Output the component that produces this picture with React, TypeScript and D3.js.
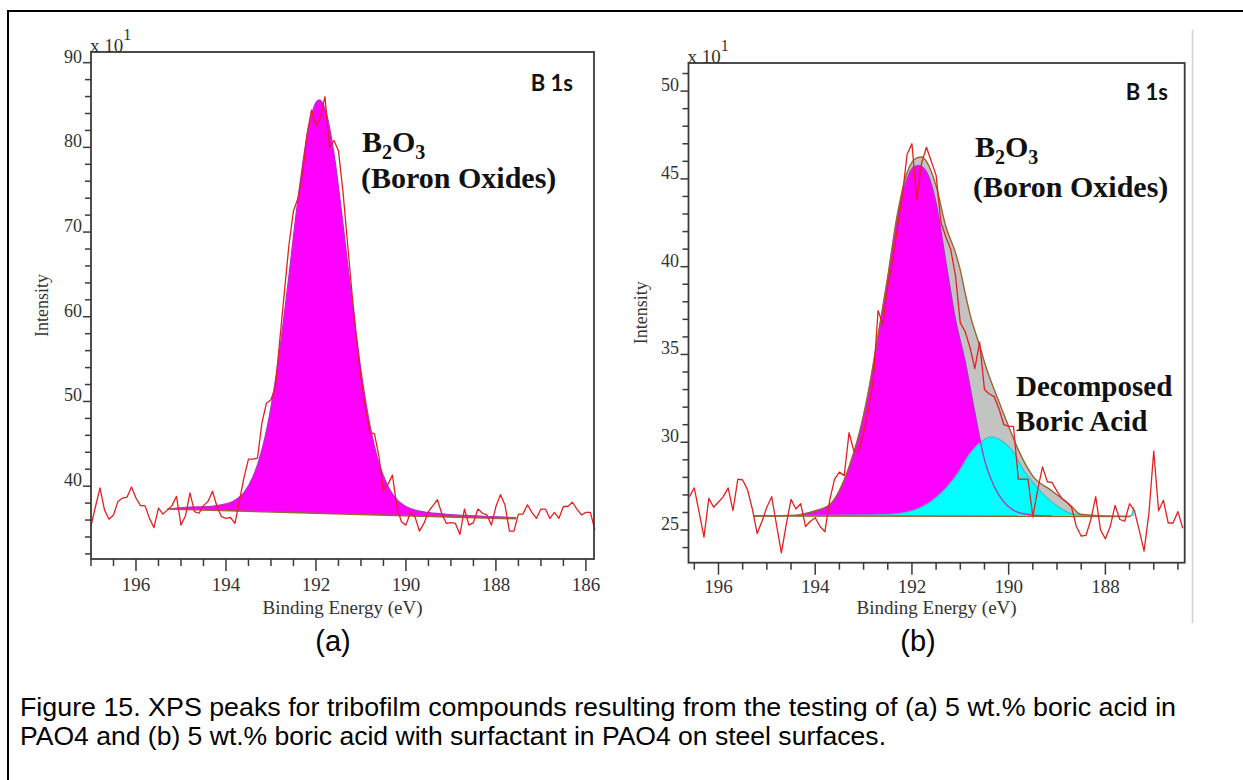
import React from 'react';
import * as d3 from 'd3';

// ---------- Panel (a) data ----------
const energiesA: number[] = d3.range(1970, 1857, -1).map((d) => d / 10); // 197.0 → 185.8 eV
const intensityA: number[] = [
  35.3, 37.6, 39.8, 37.2, 36.1, 36.6, 38.2, 38.6, 38.7, 39.9,
  38.6, 37.7, 37.7, 36.2, 35.1, 37.4, 36.7, 37.2, 37.7, 38.8,
  35.4, 36.5, 39.2, 37.0, 36.8, 37.7, 38.2, 39.4, 37.6, 36.4,
  36.2, 36.3, 35.6, 38.3, 41.0, 43.2, 43.2, 43.3, 47.5, 49.8,
  50.2, 51.7, 57.5, 63.0, 68.5, 72.5, 74.0, 76.7, 81.5, 84.4,
  82.5, 83.5, 86.0, 80.0, 80.8, 79.6, 74.8, 68.8, 62.8, 57.5,
  52.8, 49.2, 46.3, 46.2, 43.5, 39.5, 40.2, 41.3, 37.5, 35.8,
  35.4, 36.9, 36.4, 34.7, 35.6, 37.0, 37.7, 38.4, 36.7, 35.6,
  35.7, 35.6, 34.3, 37.3, 35.4, 35.7, 37.3, 36.8, 36.6, 35.4,
  37.6, 39.0, 37.8, 34.7, 34.7, 36.7, 36.7, 37.8, 36.9, 36.2,
  37.3, 37.3, 36.2, 36.9, 36.2, 37.6, 37.6, 38.1, 37.3, 36.6,
  36.9, 36.9, 34.8,
];
const peakAEnergy: number[] = [
  195.3, 194.8, 194.4, 194.0, 193.8, 193.6, 193.4, 193.2, 193.0, 192.8,
  192.6, 192.4, 192.2, 192.0, 191.93, 191.8, 191.6, 191.4, 191.2, 191.0,
  190.8, 190.6, 190.4, 190.2, 190.0, 189.6, 189.2, 188.5, 187.55,
];
const peakAValue: number[] = [
  37.3, 37.54, 37.6, 37.9, 38.35, 39.25, 41.1, 44.3, 49.3, 56.3,
  64.9, 73.9, 81.3, 85.3, 85.6, 84.6, 79.3, 71.0, 62.0, 53.7,
  47.2, 42.7, 40.0, 38.4, 37.6, 36.96, 36.74, 36.5, 36.3,
];
const baseAEnergy: number[] = [195.3, 187.55];
const baseAValue: number[] = [37.3, 36.15];
const xTicksA: number[] = [196, 194, 192, 190, 188, 186];
const yTicksA: number[] = [40, 50, 60, 70, 80, 90];

// ---------- Panel (b) data ----------
const energiesB: number[] = d3.range(1966, 1863, -1).map((d) => d / 10); // 196.6 → 186.4 eV
const intensityB: number[] = [
  26.9, 27.4, 26.0, 24.6, 26.8, 26.3, 26.6, 26.9, 27.4, 26.1,
  27.9, 27.85, 27.3, 26.2, 24.8, 25.5, 26.3, 26.9, 25.3, 23.7,
  25.3, 26.75, 26.2, 26.5, 25.2, 25.5, 25.7, 25.2, 24.9, 26.7,
  27.9, 28.3, 28.1, 30.55, 29.5, 29.5, 30.5, 31.8, 33.5, 37.5,
  36.7, 38.9, 40.3, 42.2, 44.0, 46.4, 47.0, 43.8, 45.9, 46.8,
  46.0, 45.2, 42.5, 41.7, 41.0, 39.5, 36.8, 36.3, 35.4, 34.2,
  35.7, 33.0, 32.75, 32.6, 31.9, 31.0, 30.9, 30.9, 27.9, 27.9,
  27.9, 25.75, 27.3, 28.6, 27.75, 27.7, 27.2, 26.8, 26.6, 26.3,
  25.2, 24.66, 24.7, 25.6, 26.9, 25.0, 24.5, 25.2, 26.4, 25.6,
  25.5, 26.5, 26.1, 25.0, 23.8, 25.95, 29.5, 26.1, 26.7, 25.4,
  25.4, 26.05, 25.1,
];
const oxideBEnergy: number[] = [
  194.4, 194.0, 193.7, 193.5, 193.3, 193.1, 192.9, 192.7, 192.5, 192.3,
  192.1, 191.95, 191.85, 191.7, 191.5, 191.3, 191.1, 190.9, 190.7, 190.5,
  190.3, 190.1, 189.8, 189.5, 189.1,
];
const oxideBValue: number[] = [
  25.8, 26.05, 26.4, 27.2, 28.5, 30.3, 32.8, 36.0, 39.3, 42.8,
  45.0, 45.7, 45.76, 45.4, 43.6, 40.3, 37.0, 34.6, 31.7, 29.0,
  27.5, 26.6, 26.0, 25.85, 25.8,
];
const acidBEnergy: number[] = [
  195.28, 193.1, 192.44, 191.89, 191.48, 191.06, 190.79, 190.58, 190.37, 190.1,
  189.89, 189.69, 189.48, 189.27, 188.99, 188.72, 188.37, 187.6, 187.48, 187.41,
];
const acidBValue: number[] = [
  25.8, 25.85, 25.9, 26.2, 26.9, 28.2, 29.4, 30.0, 30.3, 30.0,
  29.4, 28.4, 27.66, 27.0, 26.35, 25.95, 25.8, 25.78, 25.8, 26.3,
];
const envelopeBEnergy: number[] = [
  195.28, 194.4, 194.0, 193.7, 193.5, 193.3, 193.1, 192.9, 192.7, 192.5,
  192.3, 192.1, 191.9, 191.8, 191.7, 191.5, 191.3, 191.1, 191.0, 190.9,
  190.8, 190.6, 190.47, 190.2, 190.0, 189.73, 189.48, 189.14, 188.69, 188.52,
  188.0, 187.48,
];
const envelopeBValue: number[] = [
  25.8, 25.85, 26.1, 26.45, 27.25, 28.6, 30.4, 32.9, 36.1, 39.45,
  43.0, 45.35, 46.2, 46.25, 46.0, 44.6, 42.3, 40.8, 39.8, 38.5,
  37.3, 35.5, 34.3, 32.3, 30.9, 29.15, 28.0, 27.3, 26.33, 25.9,
  25.8, 25.78,
];
const baseBEnergy: number[] = [195.28, 187.48];
const baseBValue: number[] = [25.8, 25.78];
const xTicksB: number[] = [196, 194, 192, 190, 188];
const yTicksB: number[] = [25, 30, 35, 40, 45, 50];

const captionLines: string[] = [
  'Figure 15. XPS peaks for tribofilm compounds resulting from the testing of (a) 5 wt.% boric acid in',
  'PAO4 and (b) 5 wt.% boric acid with surfactant in PAO4 on steel surfaces.',
];

const SERIF = '"Liberation Serif", "Times New Roman", serif';
const SANS = '"Liberation Sans", Arial, sans-serif';
const AXIS = '#3a3a3a';
const RED = '#e3211f';
const MAGENTA = '#ff00ff';
const MAG_LINE = '#b030c8';
const CYAN = '#00ffff';
const CYAN_LINE = '#3cc0c0';
const BROWN = '#9a6533';
const GREY = '#c3c3c3';

type Pt = [number, number];
const zip = (e: number[], v: number[]): Pt[] => e.map((d, i) => [d, v[i]] as Pt);

function Axes({ xs, ys, xTicks, xMinor, yTicks, yMinor, xLabelBase, yLabelRight, intensityX }: any) {
  const [x0, x1] = xs.range();
  const [y0, y1] = ys.range();
  const cx = (x0 + x1) / 2;
  const cy = (y0 + y1) / 2;
  return (
    <g>
      <rect x={x0} y={y1} width={x1 - x0} height={y0 - y1} fill="none" stroke={AXIS} strokeWidth={1.8} />
      {xMinor.map((t: number) => {
        const major = xTicks.includes(t);
        return <line key={'xm' + t} x1={xs(t)} x2={xs(t)} y1={y0} y2={y0 + (major ? 12 : 7)} stroke={AXIS} strokeWidth={1.5} />;
      })}
      {xTicks.map((t: number) => (
        <text key={'xl' + t} x={xs(t)} y={xLabelBase} textAnchor="middle" fontFamily={SERIF} fontSize={19} fill="#333">
          {t}
        </text>
      ))}
      {yMinor.map((t: number) => {
        const major = yTicks.includes(t);
        return <line key={'ym' + t} x1={x0 - (major ? 8 : 6)} x2={x0} y1={ys(t)} y2={ys(t)} stroke={AXIS} strokeWidth={1.5} />;
      })}
      {yTicks.map((t: number) => (
        <text key={'yl' + t} x={yLabelRight} y={ys(t)} textAnchor="end" fontFamily={SERIF} fontSize={18} fill="#333">
          {t}
        </text>
      ))}
      <text x={x0 - 1} y={y1} fontFamily={SERIF} fontSize={19} fill="#333">
        x 10
        <tspan dy={-12} fontSize={16}>1</tspan>
      </text>
      <text x={cx} y={614} textAnchor="middle" fontFamily={SERIF} fontSize={19} fill="#333">
        Binding Energy (eV)
      </text>
      <text transform={`translate(${intensityX},${cy}) rotate(-90)`} textAnchor="middle" fontFamily={SERIF} fontSize={18} fill="#333">
        Intensity
      </text>
    </g>
  );
}

function B2O3({ x, y }: { x: number; y: number }) {
  return (
    <text x={x} y={y} fontFamily={SERIF} fontWeight="bold" fontSize={30} fill="#111">
      B<tspan dy={7} fontSize={20}>2</tspan>
      <tspan dy={-7}>O</tspan>
      <tspan dy={7} fontSize={20}>3</tspan>
    </text>
  );
}

export default function App() {
  // ----- panel a scales -----
  const xA = d3.scaleLinear().domain([197, 185.82]).range([91, 594]);
  const yA = d3.scaleLinear().domain([31.4, 91.26]).range([559, 52]);
  const baseA = d3.scaleLinear().domain(baseAEnergy).range(baseAValue);
  const lineA = d3.line<Pt>().x((d) => xA(d[0])).y((d) => yA(d[1]));
  const smoothA = d3.line<Pt>().x((d) => xA(d[0])).y((d) => yA(d[1])).curve(d3.curveMonotoneX);
  const areaA = d3
    .area<Pt>()
    .x((d) => xA(d[0]))
    .y0((d) => yA(baseA(d[0])))
    .y1((d) => yA(d[1]))
    .curve(d3.curveMonotoneX);
  const rawA = zip(energiesA, intensityA);
  const peakA = zip(peakAEnergy, peakAValue);
  const basePtsA = zip(baseAEnergy, baseAValue);

  // ----- panel b scales -----
  const xB = d3.scaleLinear().domain([196.62, 186.36]).range([688.5, 1184.7]);
  const yB = d3.scaleLinear().domain([23.14, 51.6]).range([562.7, 63]);
  const baseB = d3.scaleLinear().domain(baseBEnergy).range(baseBValue).clamp(true);
  const lineB = d3.line<Pt>().x((d) => xB(d[0])).y((d) => yB(d[1]));
  const smoothB = d3.line<Pt>().x((d) => xB(d[0])).y((d) => yB(d[1])).curve(d3.curveMonotoneX);
  const areaB = d3
    .area<Pt>()
    .x((d) => xB(d[0]))
    .y0((d) => yB(baseB(d[0])))
    .y1((d) => yB(d[1]))
    .curve(d3.curveMonotoneX);
  const rawB = zip(energiesB, intensityB);
  const oxideB = zip(oxideBEnergy, oxideBValue);
  const acidB = zip(acidBEnergy, acidBValue);
  const envB = zip(envelopeBEnergy, envelopeBValue);
  const basePtsB = zip(baseBEnergy, baseBValue);

  const xMinorA = d3.range(1970, 1859, -5).map((d) => d / 10);
  const yMinorA = d3.range(32, 91, 2);
  const xMinorB = d3.range(1965, 1864, -5).map((d) => d / 10);
  const yMinorB = d3.range(24, 52, 1);

  return (
    <svg width={1243} height={780} style={{ position: 'absolute', left: 0, top: 0, background: '#fff' }}>
      {/* outer frame */}
      <line x1={8} x2={8} y1={10} y2={780} stroke="#000" strokeWidth={2} />
      <line x1={7} x2={1243} y1={11} y2={11} stroke="#000" strokeWidth={2} />
      <line x1={1192.5} x2={1192.5} y1={30} y2={623} stroke="#d0d0d0" strokeWidth={1.5} />

      {/* ---------- panel a ---------- */}
      <path d={areaA(peakA) || ''} fill={MAGENTA} />
      <path d={smoothA(peakA) || ''} fill="none" stroke={MAG_LINE} strokeWidth={1.2} />
      <path d={lineA(basePtsA) || ''} fill="none" stroke={BROWN} strokeWidth={1.6} />
      <path d={lineA(rawA) || ''} fill="none" stroke={RED} strokeWidth={1.3} strokeLinejoin="round" />
      <Axes xs={xA} ys={yA} xTicks={xTicksA} xMinor={xMinorA} yTicks={yTicksA} yMinor={yMinorA} xLabelBase={591} yLabelRight={82} intensityX={48} />
      <text x={573} y={91} textAnchor="end" fontFamily="Lato, 'Open Sans', sans-serif" fontWeight="bold" fontSize={22} fill="#111">
        B 1s
      </text>
      <B2O3 x={362} y={152} />
      <text x={361} y={188} fontFamily={SERIF} fontWeight="bold" fontSize={30} fill="#111">
        (Boron Oxides)
      </text>

      {/* ---------- panel b ---------- */}
      <path d={areaB(envB) || ''} fill={GREY} />
      <path d={areaB(oxideB) || ''} fill={MAGENTA} />
      <path d={areaB(acidB) || ''} fill={CYAN} />
      <path d={smoothB(acidB) || ''} fill="none" stroke={CYAN_LINE} strokeWidth={1.2} />
      <path d={smoothB(oxideB) || ''} fill="none" stroke={MAG_LINE} strokeWidth={1.3} />
      <path d={smoothB(envB) || ''} fill="none" stroke={BROWN} strokeWidth={1.4} />
      <path d={lineB(basePtsB) || ''} fill="none" stroke={BROWN} strokeWidth={1.6} />
      <path d={lineB(rawB) || ''} fill="none" stroke={RED} strokeWidth={1.3} strokeLinejoin="round" />
      <Axes xs={xB} ys={yB} xTicks={xTicksB} xMinor={xMinorB} yTicks={yTicksB} yMinor={yMinorB} xLabelBase={593} yLabelRight={679} intensityX={647} />
      <text x={1168} y={100} textAnchor="end" fontFamily="Lato, 'Open Sans', sans-serif" fontWeight="bold" fontSize={22} fill="#111">
        B 1s
      </text>
      <B2O3 x={975} y={157} />
      <text x={973} y={197} fontFamily={SERIF} fontWeight="bold" fontSize={30} fill="#111">
        (Boron Oxides)
      </text>
      <text x={1016} y={396} fontFamily={SERIF} fontWeight="bold" fontSize={29} fill="#111">
        Decomposed
      </text>
      <text x={1016} y={431} fontFamily={SERIF} fontWeight="bold" fontSize={29} fill="#111">
        Boric Acid
      </text>

      {/* sub-figure labels */}
      <text x={333} y={651} textAnchor="middle" fontFamily={SANS} fontSize={29} fill="#000">
        (a)
      </text>
      <text x={918} y={651} textAnchor="middle" fontFamily={SANS} fontSize={29} fill="#000">
        (b)
      </text>

      {/* caption */}
      <text x={20} y={716} fontFamily={SANS} fontSize={25.5} fill="#000" textLength={1156} lengthAdjust="spacingAndGlyphs">
        {captionLines[0]}
      </text>
      <text x={20} y={745} fontFamily={SANS} fontSize={25.5} fill="#000" textLength={866} lengthAdjust="spacingAndGlyphs">
        {captionLines[1]}
      </text>
    </svg>
  );
}
